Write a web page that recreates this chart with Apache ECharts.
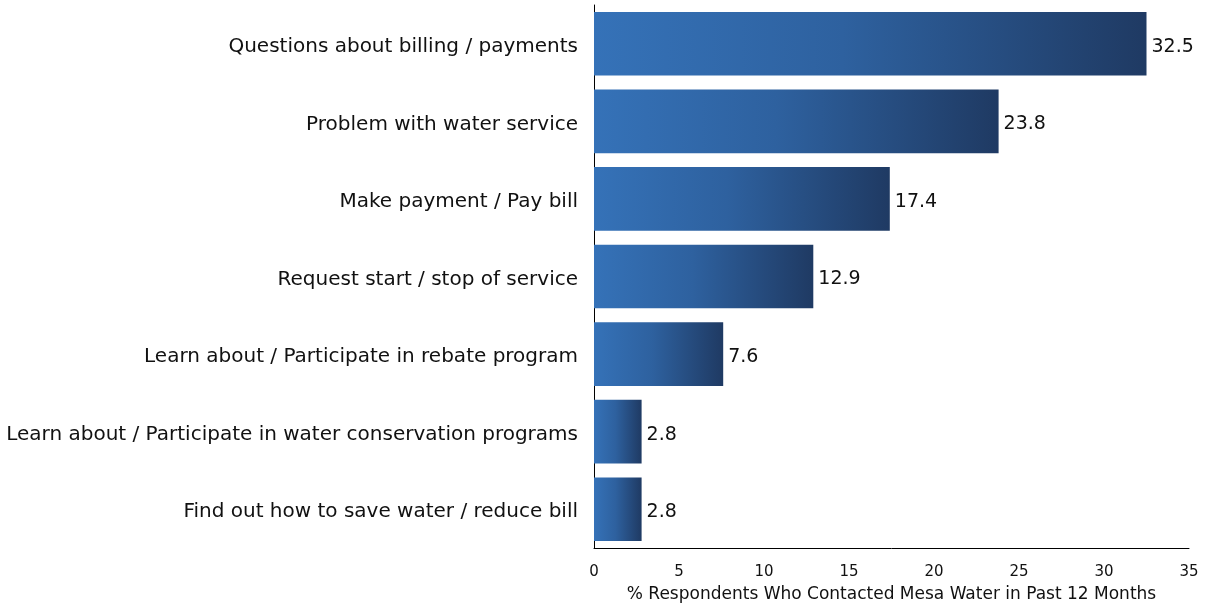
<!DOCTYPE html>
<html>
<head>
<meta charset="utf-8">
<script src="https://cdn.jsdelivr.net/npm/echarts@6/dist/echarts.min.js"></script>
<style>
  html, body { margin: 0; padding: 0; background: #fff; }
  #chart { width: 1205px; height: 608px; }
</style>
</head>
<body>
<div id="chart"></div>
<script>
// Reasons for contacting the utility, listed top to bottom
const categories = [
  'Questions about billing / payments',
  'Problem with water service',
  'Make payment / Pay bill',
  'Request start / stop of service',
  'Learn about / Participate in rebate program',
  'Learn about / Participate in water conservation programs',
  'Find out how to save water / reduce bill'
];
const values = [32.5, 23.8, 17.4, 12.9, 7.6, 2.8, 2.8];
const xTicks = [0, 5, 10, 15, 20, 25, 30, 35];

const FONT = 'DejaVu Sans';

const chart = echarts.init(document.getElementById('chart'));
chart.setOption({
  animation: false,
  grid: { left: 594, right: 16, top: 5, bottom: 59, containLabel: false },
  xAxis: {
    type: 'value',
    min: xTicks[0],
    max: xTicks[xTicks.length - 1],
    interval: 5,
    name: '% Respondents Who Contacted Mesa Water in Past 12 Months',
    nameLocation: 'middle',
    nameGap: 38,
    nameTextStyle: { color: '#111', fontSize: 17, fontFamily: FONT },
    axisLine: { show: true, lineStyle: { color: '#000', width: 1 } },
    axisTick: { show: false },
    splitLine: { show: false },
    axisLabel: { color: '#111', fontSize: 15, fontFamily: FONT, margin: 17 }
  },
  yAxis: {
    type: 'category',
    inverse: true,
    data: categories,
    axisLine: { show: true, lineStyle: { color: '#000', width: 1 } },
    axisTick: { show: false },
    axisLabel: {
      color: '#111', fontSize: 20, fontFamily: FONT, margin: 16,
      formatter: v => '{t|' + v + '}',
      rich: {
        t: { color: '#111', fontSize: 20, fontFamily: FONT, padding: [6, 0, 0, 0] }
      }
    }
  },
  series: [{
    type: 'bar',
    data: values,
    barCategoryGap: '18%',
    itemStyle: {
      color: new echarts.graphic.LinearGradient(0, 0, 1, 0, [
        { offset: 0, color: '#3572b8' },
        { offset: 0.45, color: '#2e619f' },
        { offset: 1, color: '#1f3a63' }
      ])
    },
    label: {
      show: true,
      position: 'right',
      distance: 5,
      offset: [0, 3],
      color: '#111',
      fontSize: 19,
      fontFamily: FONT,
      formatter: p => p.value.toFixed(1)
    }
  }]
});
</script>
</body>
</html>
